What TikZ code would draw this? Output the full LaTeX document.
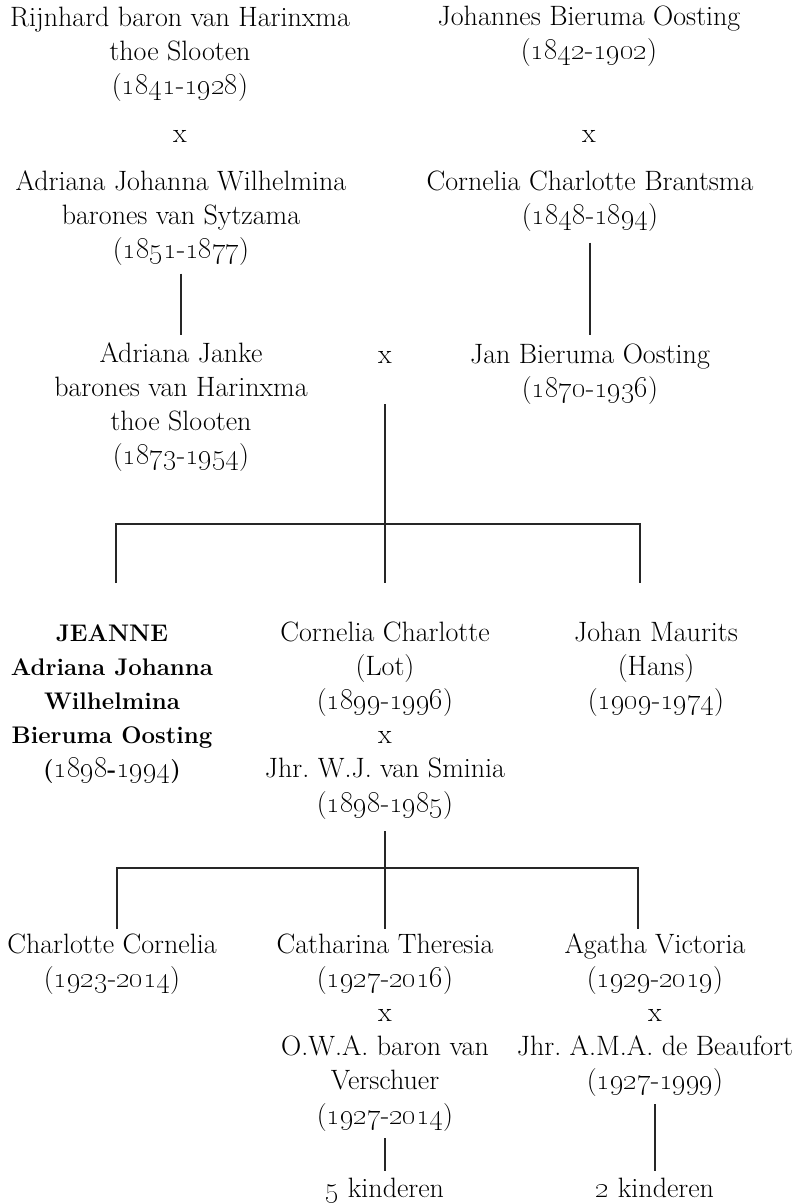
\documentclass[tikz,border=0pt]{standalone}
\newcommand\osn[1]{{\fontsize{31}{34.2}\selectfont\oldstylenums{#1}}}
\frenchspacing
\tikzset{
  person/.style={anchor=north, align=center, inner sep=0pt, font=\fontsize{28}{34.2}\selectfont},
  heroine/.style={person, font=\fontsize{24}{34.2}\selectfont\bfseries},
  xsym/.style={anchor=base, inner sep=0pt, font=\fontsize{28}{34.2}\selectfont},
  link/.style={line width=1.1pt, draw=black!85}
}
\begin{document}
\begin{tikzpicture}[x=1pt,y=-1pt]
\useasboundingbox (0,0) rectangle (796,1203);
% generation 1
\node[person] (rijn) at (180,2) {\strut Rijnhard baron van Harinxma\\thoe Slooten\\(\osn{1841}-\osn{1928})};
\node[xsym] (x1) at (180,142) {x};
\node[person] (adrJW) at (181,166) {\strut Adriana Johanna Wilhelmina\\barones van Sytzama\\(\osn{1851}-\osn{1877})};
\node[person] (joh) at (589,1) {\strut Johannes Bieruma Oosting\\(\osn{1842}-\osn{1902})};
\node[xsym] (x2) at (589,142) {x};
\node[person] (corB) at (590,166) {\strut Cornelia Charlotte Brantsma\\(\osn{1848}-\osn{1894})};
% generation 2
\node[person] (adrJ) at (181,338) {\strut Adriana Janke\\barones van Harinxma\\thoe Slooten\\(\osn{1873}-\osn{1954})};
\node[xsym] (x3) at (385,363) {x};
\node[person] (jan) at (590,339) {\strut Jan Bieruma Oosting\\(\osn{1870}-\osn{1936})};
% generation 3
\node[heroine] (jeanne) at (112,617) {\strut JEANNE\\Adriana Johanna\\Wilhelmina\\Bieruma Oosting\\(\osn{1898}-\osn{1994})};
\node[person] (lot) at (385,617) {\strut Cornelia Charlotte\\(Lot)\\(\osn{1899}-\osn{1996})\\x\\Jhr. W.J. van Sminia\\(\osn{1898}-\osn{1985})};
\node[person] (hans) at (656,617) {\strut Johan Maurits\\(Hans)\\(\osn{1909}-\osn{1974})};
% generation 4
\node[person] (charC) at (112,929) {\strut Charlotte Cornelia\\(\osn{1923}-\osn{2014})};
\node[person] (cath) at (385,929) {\strut Catharina Theresia\\(\osn{1927}-\osn{2016})\\x\\O.W.A. baron van\\Verschuer\\(\osn{1927}-\osn{2014})};
\node[person] (agatha) at (655,929) {\strut Agatha Victoria\\(\osn{1929}-\osn{2019})\\x\\Jhr. A.M.A. de Beaufort\\(\osn{1927}-\osn{1999})};
\node[xsym] (k5) at (385,1197) {\osn{5} kinderen};
\node[xsym] (k2) at (655,1197) {\osn{2} kinderen};
% connectors
\draw[link] ([yshift=-8pt]adrJW.south) -- ([yshift=3pt]adrJ.north);
\draw[link] ([yshift=-11pt]corB.south) -- ([yshift=4pt]jan.north);
\coordinate (j1) at (385,524);
\coordinate (jL) at (116,524);
\coordinate (jR) at (640,524);
\draw[link] ([yshift=-41pt]x3.base) -- (j1) -- ([yshift=34pt]lot.north);
\draw[link] ([yshift=34pt]jeanne.north -| jL) -- (jL) -- (jR) -- ([yshift=34pt]hans.north -| jR);
\coordinate (j2) at (385,868);
\coordinate (kL) at (117,868);
\coordinate (kR) at (638,868);
\draw[link] ([yshift=-12pt]lot.south) -- (j2) -- (cath.north);
\draw[link] (charC.north -| kL) -- (kL) -- (kR) -- (agatha.north -| kR);
\draw[link] ([yshift=-7pt]cath.south) -- ([yshift=6pt]k5.north);
\draw[link] ([yshift=-7pt]agatha.south) -- ([yshift=6pt]k2.north);
\end{tikzpicture}
\end{document}
